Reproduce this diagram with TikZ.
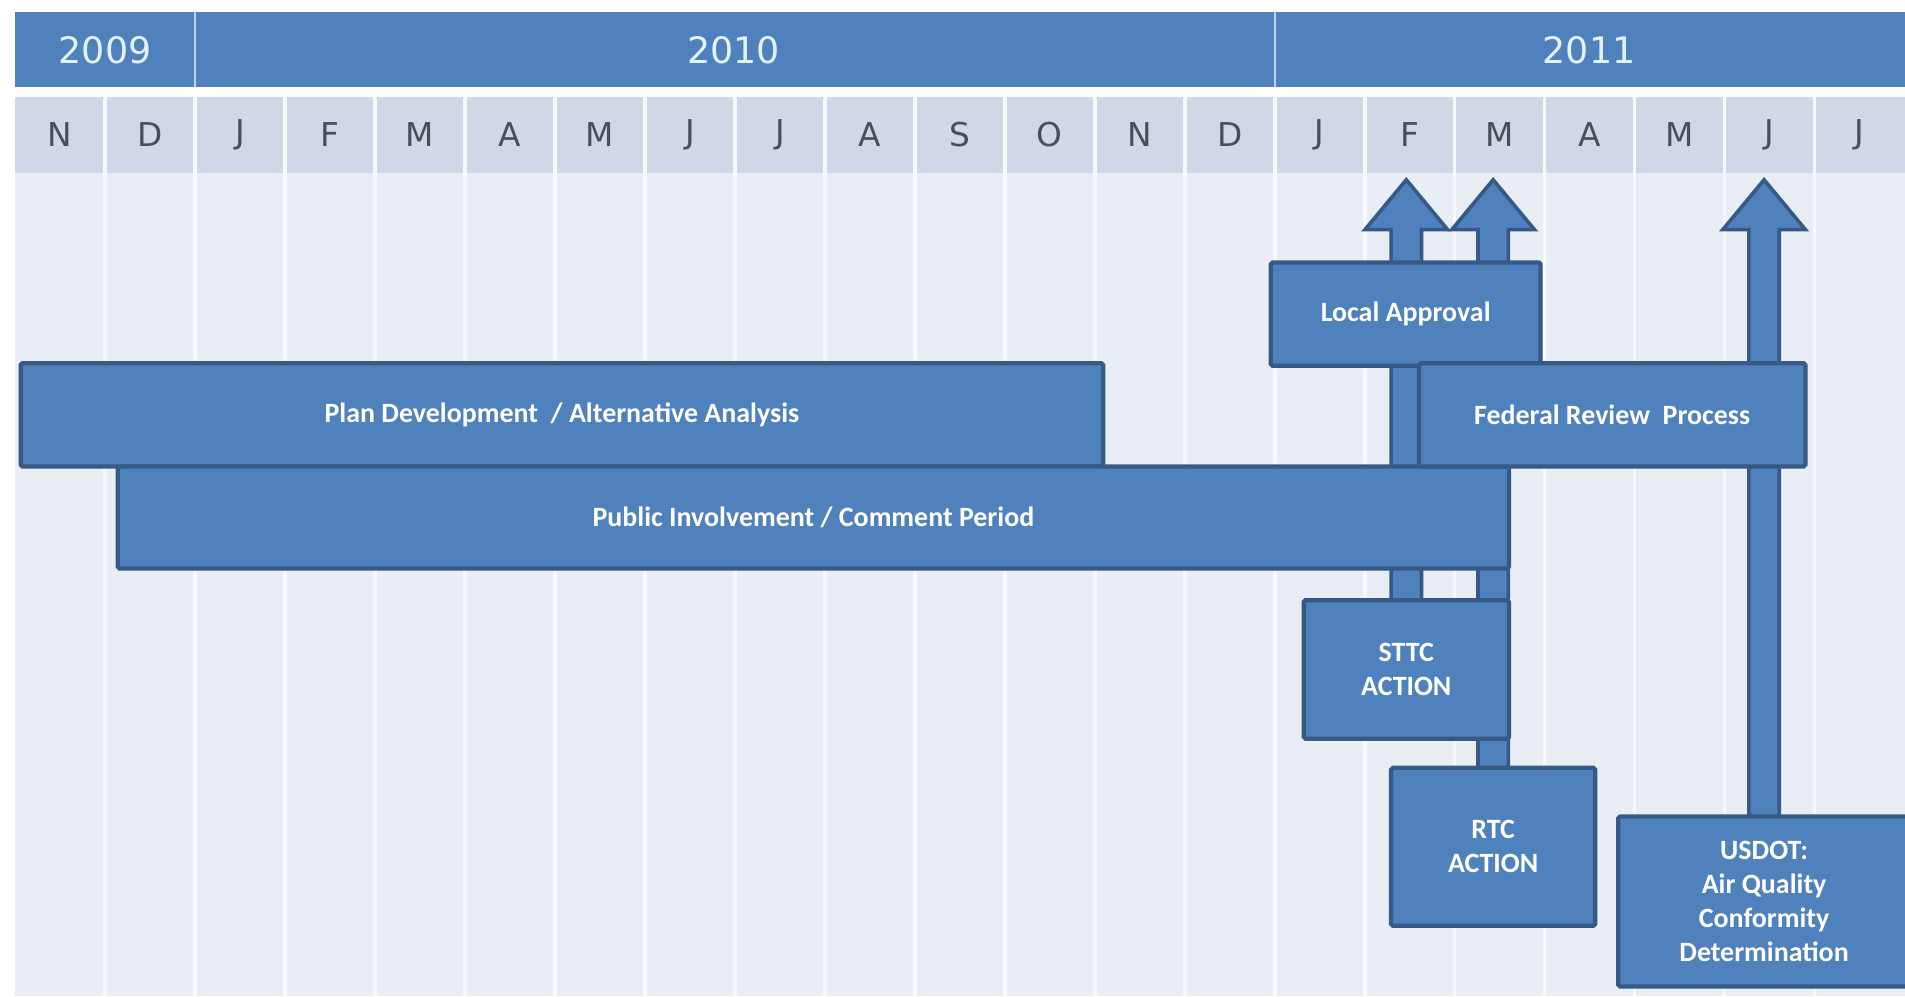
\documentclass[tikz,border=0pt]{standalone}
\usepackage{fontspec}
\setmainfont{Carlito}
\newfontfamily\hdrfont{DejaVu Sans}
\usetikzlibrary{calc}
\definecolor{hdrblue}{RGB}{79,129,189}
\definecolor{boxfill}{RGB}{79,129,189}
\definecolor{boxline}{RGB}{54,89,134}
\definecolor{monthbg}{RGB}{208,216,232}
\definecolor{bodybg}{RGB}{233,237,244}
\definecolor{sepcol}{RGB}{247,249,252}
\definecolor{yearsep}{RGB}{190,212,238}
\definecolor{yeartext}{RGB}{228,242,252}
\definecolor{monthtext}{RGB}{75,78,88}
\pgfdeclarelayer{grid}
\pgfdeclarelayer{arr}
\pgfsetlayers{grid,arr,main}
\tikzset{
  bar/.style={draw=boxline, fill=boxfill, line width=3.5pt, rounded corners=1.5pt,
    inner sep=0pt, outer sep=0pt, text=white, align=center,
    font=\bfseries\fontsize{23}{28}\selectfont},
  arrowshape/.style={draw=boxline, fill=boxfill, line width=3pt},
  yearlbl/.style={text=yeartext, font=\hdrfont\fontsize{30}{30}\selectfont, inner sep=0pt},
  monthlbl/.style={text=monthtext, font=\hdrfont\fontsize{27}{27}\selectfont, inner sep=0pt}
}
\newcommand\blockarr[2]{%
  \draw[arrowshape] let \p1=(#1.north), \p2=(#2) in
    (\x1,\y2) -- ({\x1+34pt},{\y2-41pt}) -- ({\x1+12.5pt},{\y2-41pt})
    -- ({\x1+12.5pt},{\y1-8pt}) -- ({\x1-12.5pt},{\y1-8pt})
    -- ({\x1-12.5pt},{\y2-41pt}) -- ({\x1-34pt},{\y2-41pt}) -- cycle;}
\begin{document}
\begin{tikzpicture}[x=1pt,y=-1pt]
\useasboundingbox (0,0) rectangle (1568,820);
\begin{pgfonlayer}{grid}
  \fill[white] (0,0) rectangle (1568,820);
  \fill[hdrblue] (12.5,10) rectangle (1568,72);
  \fill[monthbg] (12.5,80) rectangle (1568,142);
  \fill[bodybg] (12.5,142) rectangle (1568,820);
  \foreach \k in {1,...,20}
    \draw[sepcol, line width=3pt] ({12.5+\k*74.05},80) -- ({12.5+\k*74.05},820);
  \draw[yearsep, line width=1.5pt] (160.6,10) -- (160.6,72);
  \draw[yearsep, line width=1.5pt] (1049.2,10) -- (1049.2,72);
\end{pgfonlayer}
% years
\node[yearlbl] (y2009) at (86.5,41) {2009};
\node[yearlbl] (y2010) at (604,41) {2010};
\node[yearlbl] (y2011) at (1308,41) {2011};
% months
\foreach [count=\i from 0] \m in {N,D,J,F,M,A,M,J,J,A,S,O,N,D,J,F,M,A,M,J,J}
  \node[monthlbl] (m\i) at ({12.5+(\i+0.5)*74.05},111) {\m};
% bars
\node[bar, minimum width=891pt, minimum height=85pt] (plan) at (462.5,341.5)
  {Plan Development\ \ / Alternative Analysis};
\node[bar, minimum width=1145pt, minimum height=84pt] (public) at (669.5,426)
  {Public Involvement / Comment Period};
\node[bar, minimum width=222pt, minimum height=85pt] (local) at (1157,258.5)
  {Local Approval};
\node[bar, minimum width=318pt, minimum height=85pt] (federal) at (1327,341.5)
  {Federal Review\ \ Process};
\node[bar, minimum width=169pt, minimum height=114pt] (sttc) at (1157.5,551)
  {STTC\\ACTION};
\node[bar, minimum width=168pt, minimum height=130pt] (rtc) at (1229,697)
  {RTC\\ACTION};
\node[bar, minimum width=240pt, minimum height=140pt] (usdot) at (1452,742)
  {USDOT:\\Air Quality\\Conformity\\Determination};
% arrow tips
\coordinate (t1) at (1157.5,148);
\coordinate (t2) at (1229,148);
\coordinate (t3) at (1452,148);
\begin{pgfonlayer}{arr}
  \blockarr{sttc}{t1}
  \blockarr{rtc}{t2}
  \blockarr{usdot}{t3}
\end{pgfonlayer}
\end{tikzpicture}
\end{document}
